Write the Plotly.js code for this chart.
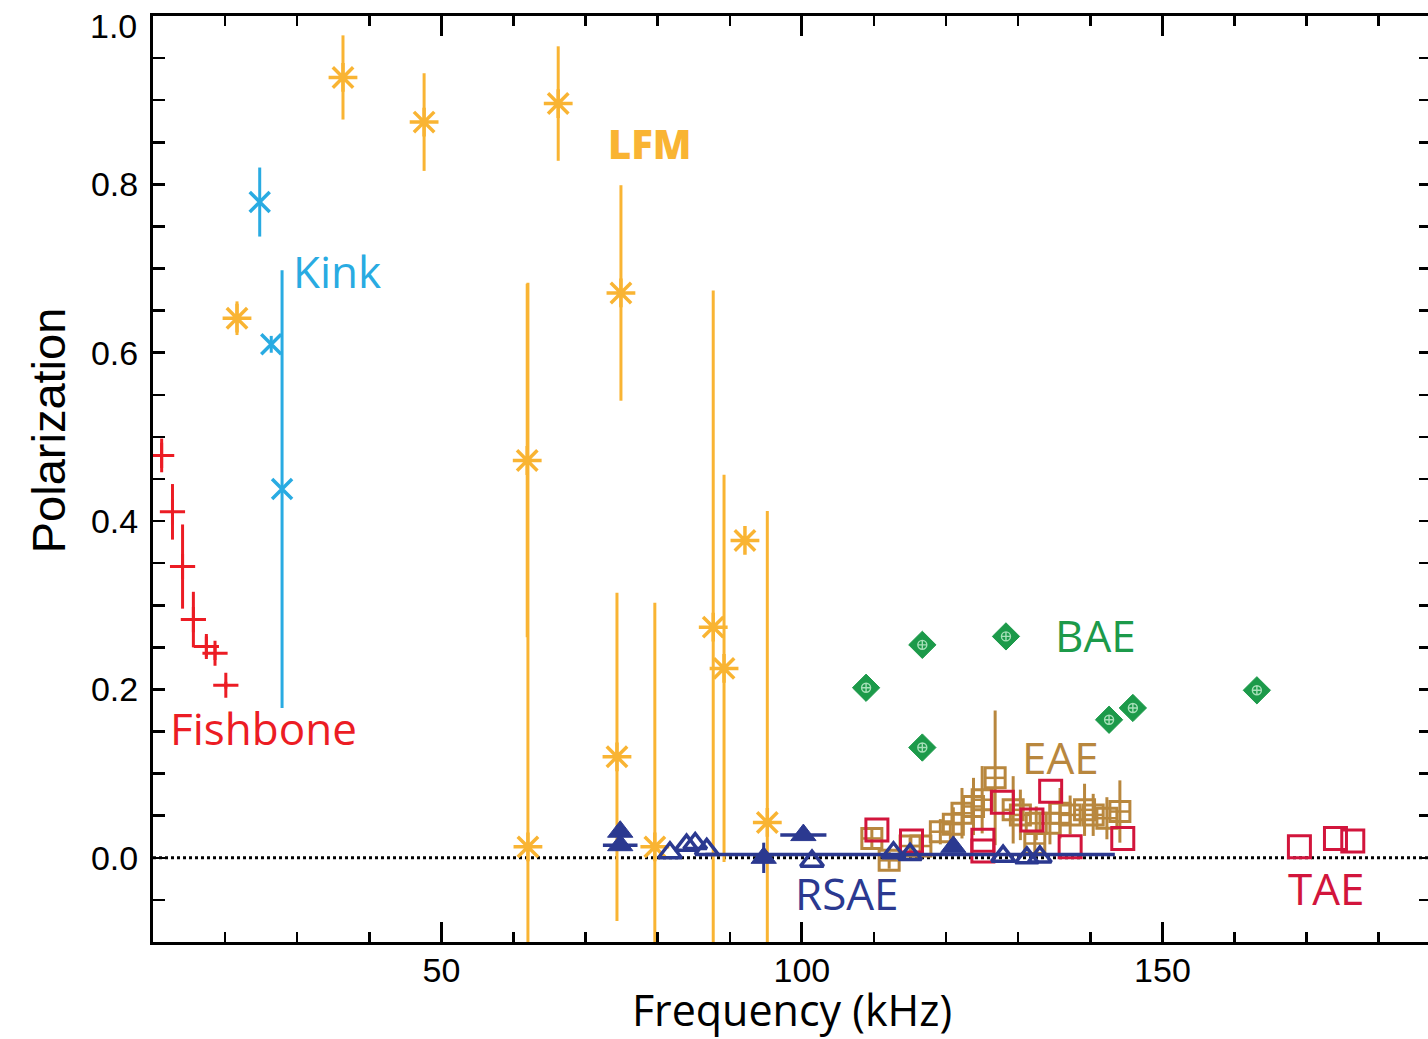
<!DOCTYPE html>
<html>
<head>
<meta charset="utf-8">
<script src="https://cdn.plot.ly/plotly-3.0.1.min.js"></script>
<style>
html,body{margin:0;padding:0;background:#fff;overflow:hidden;}
#chart{position:absolute;left:0;top:0;}
</style>
</head>
<body>
<div id="chart"></div>
<script>
// ---- Data (frequency kHz, polarization) ----
var labels = ["Fishbone", "Kink", "LFM", "BAE", "EAE", "RSAE", "TAE"];

// y tick positions every 0.05, labels only on the 0.2 multiples (1.0 is drawn just below its tick, as in the original)
var yTickVals = [-0.1, -0.05, 0.0, 0.05, 0.1, 0.15, 0.2, 0.25, 0.3, 0.35, 0.4, 0.45, 0.5, 0.55, 0.6, 0.65, 0.7, 0.75, 0.8, 0.85, 0.9, 0.95, 1.0];
var yTickText = ["", "", "0.0", "", "", "", "0.2", "", "", "", "0.4", "", "", "", "0.6", "", "", "", "0.8", "", "", "", ""];
var yTopLabel = "1.0";
var yMajorVals = [0.0, 0.2, 0.4, 0.6, 0.8, 1.0];

var fishX   = [11.2, 12.7, 14.1, 15.6, 17.4, 18.6, 20.1];
var fishY   = [0.478, 0.411, 0.346, 0.283, 0.251, 0.243, 0.205];
var fishErr = [0.020, 0.033, 0.050, 0.033, 0.012, 0.008, 0.004];

var kinkX   = [24.8, 26.4, 27.9];
var kinkY   = [0.779, 0.610, 0.438];
var kinkErr = [0.041, 0.010, 0.260];

var lfmX   = [21.65, 36.35, 47.6, 61.9, 62.0, 66.2, 74.35, 74.9, 79.6, 87.7, 89.2, 92.1, 95.2];
var lfmY   = [0.641, 0.927, 0.874, 0.472, 0.013, 0.896, 0.120, 0.671, 0.013, 0.274, 0.225, 0.377, 0.042];
var lfmErr = [0.020, 0.050, 0.058, 0.210, 0.670, 0.068, 0.195, 0.128, 0.290, 0.400, 0.230, 0.005, 0.370];

var baeX = [108.9, 116.7, 116.7, 128.3, 142.6, 145.9, 163.1];
var baeY = [0.202, 0.253, 0.131, 0.263, 0.164, 0.178, 0.199];

var eaeX   = [109.7, 112.1, 115.0, 116.5, 119.2, 121.0, 122.2, 123.8, 125.0, 126.8, 129.3, 130.3, 132.3, 132.5, 134.4, 135.8, 137.2, 139.2, 140.4, 142.3, 144.1];
var eaeY   = [0.023, -0.003, 0.014, 0.014, 0.031, 0.040, 0.053, 0.061, 0.069, 0.095, 0.057, 0.051, 0.017, 0.041, 0.041, 0.053, 0.051, 0.057, 0.051, 0.047, 0.055];
var eaeErr = [0.012, 0.010, 0.010, 0.010, 0.015, 0.020, 0.030, 0.034, 0.040, 0.080, 0.040, 0.030, 0.015, 0.020, 0.025, 0.030, 0.023, 0.031, 0.025, 0.025, 0.037];

var taeX = [110.4, 115.2, 125.1, 125.1, 127.8, 131.9, 134.5, 137.2, 144.5, 169.0, 174.0, 176.4];
var taeY = [0.033, 0.020, 0.021, 0.008, 0.066, 0.045, 0.079, 0.013, 0.023, 0.013, 0.023, 0.020];

var rsaeFillX    = [74.8, 74.8, 94.7, 100.2, 121.0];
var rsaeFillY    = [0.031, 0.015, 0.000, 0.027, 0.013];
var rsaeFillXErr = [0, 2.4, 0, 3.2, 0];
var rsaeFillYErr = [0, 0, 0.018, 0, 0];

var rsaeOpenX    = [81.7, 84.0, 85.2, 86.8, 101.4, 112.7, 115.0, 127.9, 131.2, 133.0];
var rsaeOpenY    = [0.006, 0.015, 0.017, 0.010, -0.004, 0.006, 0.004, 0.002, 0.000, 0.001];
var rsaeOpenXErr = [0, 0, 0, 0, 0, 0, 28.4, 0, 0, 0];

// ---- Colours ----
var cFish = "#ec1c24", cKink = "#29abe2", cLfm = "#f9b433", cBae = "#1c9a4a",
    cEae = "#b8873e", cTae = "#d2153c", cRsae = "#2b3990";

var traces = [
  {x: lfmX, y: lfmY, type: "scatter", mode: "markers", name: "LFM",
   error_y: {type: "data", array: lfmErr, visible: true, color: cLfm, thickness: 3, width: 0},
   marker: {symbol: "asterisk-open", size: 24, color: cLfm, line: {color: cLfm, width: 3.5}}},
  {x: fishX, y: fishY, type: "scatter", mode: "markers", name: "Fishbone",
   error_y: {type: "data", array: fishErr, visible: true, color: cFish, thickness: 3, width: 0},
   marker: {symbol: "cross-thin-open", size: 18, color: cFish, line: {color: cFish, width: 3}}},
  {x: kinkX, y: kinkY, type: "scatter", mode: "markers", name: "Kink",
   error_y: {type: "data", array: kinkErr, visible: true, color: cKink, thickness: 3, width: 0},
   marker: {symbol: "x-thin-open", size: 20, color: cKink, line: {color: cKink, width: 3.5}}},
  {x: eaeX, y: eaeY, type: "scatter", mode: "markers", name: "EAE",
   error_y: {type: "data", array: eaeErr, visible: true, color: cEae, thickness: 3, width: 0},
   error_x: {type: "constant", value: 1.3, visible: true, color: cEae, thickness: 2.5, width: 0},
   marker: {symbol: "square-open", size: 20, color: cEae, line: {color: cEae, width: 3}}},
  {x: taeX, y: taeY, type: "scatter", mode: "markers", name: "TAE",
   marker: {symbol: "square-open", size: 22, color: cTae, line: {color: cTae, width: 3}}},
  {x: rsaeOpenX, y: rsaeOpenY, type: "scatter", mode: "markers", name: "RSAE",
   error_x: {type: "data", array: rsaeOpenXErr, visible: true, color: cRsae, thickness: 3.5, width: 0},
   marker: {symbol: "triangle-up-open", size: 20, color: cRsae, line: {color: cRsae, width: 3.5}}},
  {x: rsaeFillX, y: rsaeFillY, type: "scatter", mode: "markers", name: "RSAE",
   error_x: {type: "data", array: rsaeFillXErr, visible: true, color: cRsae, thickness: 3.5, width: 0},
   error_y: {type: "data", array: rsaeFillYErr, visible: true, color: cRsae, thickness: 3, width: 0},
   marker: {symbol: "triangle-up", size: 22, color: cRsae, line: {color: cRsae, width: 1}}},
  {x: baeX, y: baeY, type: "scatter", mode: "markers", name: "BAE",
   marker: {symbol: "diamond", size: 21, color: cBae, line: {color: cBae, width: 1}}},
  {x: baeX, y: baeY, type: "scatter", mode: "markers", name: "BAE",
   marker: {symbol: "circle-cross-open", size: 9, color: "#a6e0b8", line: {color: "#a6e0b8", width: 1.4}}}
];

var annFont = "Open Sans, sans-serif";
function lab(i, x, y, col, extra) {
  var a = {text: labels[i], x: x, y: y, xref: "x", yref: "y", showarrow: false,
           xanchor: "center", yanchor: "middle",
           font: {family: annFont, size: 44, color: col}};
  if (extra) for (var k in extra) a[k] = extra[k];
  return a;
}

var layout = {
  width: 1434, height: 1039,
  margin: {l: 153, r: 3, t: 15.5, b: 97},
  paper_bgcolor: "#fff", plot_bgcolor: "#fff",
  showlegend: false,
  font: {family: "Liberation Sans, Arial, sans-serif", color: "#000"},
  xaxis: {
    range: [10, 187.25], showgrid: false, zeroline: false,
    showline: true, linecolor: "#000", linewidth: 3, mirror: "ticks",
    ticks: "inside", ticklen: 20, tickwidth: 3, tickcolor: "#000",
    tick0: 0, dtick: 50,
    minor: {dtick: 10, ticks: "inside", ticklen: 10, tickwidth: 2.5, tickcolor: "#000"},
    tickfont: {family: "Liberation Sans, Arial, sans-serif", size: 34, color: "#000"},
    ticklabelstandoff: -4,
    title: {text: "Frequency (kHz)", font: {family: "Open Sans, sans-serif", size: 43, color: "#000"}}
  },
  yaxis: {
    range: [-0.1, 1.0], showgrid: false, zeroline: false,
    showline: true, linecolor: "#000", linewidth: 3, mirror: "ticks",
    ticks: "inside", ticklen: 12, tickwidth: 2.5, tickcolor: "#000",
    tickmode: "array", tickvals: yTickVals, ticktext: yTickText,
    tickfont: {family: "Liberation Sans, Arial, sans-serif", size: 34, color: "#000"},
    ticklabelstandoff: 5
  },
  yaxis2: {
    overlaying: "y", anchor: "x", side: "left",
    range: [-0.1, 1.0], showgrid: false, zeroline: false,
    showline: false, mirror: "ticks", showticklabels: false,
    ticks: "inside", ticklen: 24, tickwidth: 3, tickcolor: "#000",
    tickmode: "array", tickvals: yMajorVals
  },
  shapes: [
    {type: "line", xref: "paper", yref: "y", x0: 0, x1: 1, y0: 0, y1: 0,
     line: {color: "#000", width: 3, dash: "dot"}, layer: "below"}
  ],
  annotations: [
    lab(0, 25.3, 0.154, cFish),
    lab(1, 35.5, 0.697, cKink),
    lab(2, 78.9, 0.849, cLfm, {font: {family: "Open Sans, sans-serif", size: 40, color: cLfm, weight: 800}}),
    lab(3, 140.7, 0.265, cBae),
    lab(4, 135.8, 0.120, cEae),
    lab(5, 106.3, -0.042, cRsae),
    lab(6, 172.7, -0.036, cTae),
    {text: yTopLabel, xref: "paper", yref: "y", x: 0, y: 1.0, xshift: -14, yshift: -10,
     showarrow: false, xanchor: "right", yanchor: "middle",
     font: {family: "Liberation Sans, Arial, sans-serif", size: 34, color: "#000"}},
    {text: "Polarization", xref: "paper", yref: "paper", x: -0.0822, y: 0.5526,
     showarrow: false, textangle: -90, xanchor: "center", yanchor: "middle",
     font: {family: "Liberation Sans, Arial, sans-serif", size: 47, color: "#000"}}
  ]
};

Plotly.newPlot("chart", traces, layout, {displayModeBar: false, staticPlot: true});
</script>
</body>
</html>
